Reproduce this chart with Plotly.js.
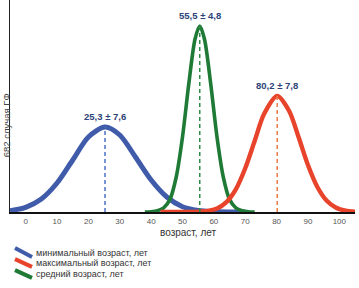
<!DOCTYPE html>
<html><head><meta charset="utf-8">
<script src="https://cdn.plot.ly/plotly-3.0.1.min.js"></script>
<style>html,body{margin:0;padding:0;background:#fff}#chart{width:359px;height:288px}</style>
</head><body><div id="chart"></div>
<script>
// Values (arbitrary frequency units)
const ageMin  = [-5, 0, 5, 10, 15, 20, 25.3, 30, 35, 40, 45, 50, 55, 60, 65, 70];
const freqMin = [1.3, 4.7, 13, 29, 52, 75, 85, 77, 55, 32, 15, 5.3, 1.6, 0.4, 0.1, 0];
const ageAvg  = [38, 40, 42, 44, 46, 48, 50, 52, 54, 55.5, 57, 59, 61, 63, 65, 67, 69, 71, 73];
const freqAvg = [0, 0.3, 1.4, 4.2, 12.6, 35, 75, 128, 173, 186, 173, 128, 75, 35, 12.6, 4.2, 1.4, 0.3, 0];
const ageMax  = [43, 46, 49, 52, 55, 58, 61, 64, 67, 70, 73, 76, 80.2, 84, 87, 90, 93, 96, 99, 102, 105];
const freqMax = [0, 0, 0, 0, 0.3, 1.1, 3.6, 9.9, 22.6, 43.7, 71, 98, 116, 101, 75, 47, 25, 11.2, 4.2, 1.3, 0.4];

const means = [25.3, 55.5, 80.2];   // min, avg, max
const sds   = [7.6, 4.8, 7.8];
const seriesNames = ['минимальный возраст, лет', 'средний возраст, лет', 'максимальный возраст, лет'];
const legendOrder = [0, 2, 1];
const tickVals = [0, 10, 20, 30, 40, 50, 60, 70, 80, 90, 100];
const xTitle = 'возраст, лет';
const yTitle = '682 случая ГФ';

const colors = ['#3f5ba9', '#1f7a36', '#e8432b'];
const dashColors = ['#4a72c4', '#2e8b46', '#ef7a45'];
const widths = [5, 3.6, 4.4];
const xs = [ageMin, ageAvg, ageMax];
const ys = [freqMin, freqAvg, freqMax];

const fmt = v => v.toFixed(1).replace('.', ',');

const traces = [];
for (let i = 0; i < 3; i++) {
  traces.push({x: xs[i], y: ys[i], type: 'scatter', mode: 'lines',
    line: {color: colors[i], width: widths[i], shape: 'spline', smoothing: 0.8},
    name: seriesNames[i], showlegend: false, hoverinfo: 'skip'});
}
const peaks = ys.map(a => Math.max(...a));
for (let i = 0; i < 3; i++) {
  traces.push({x: [means[i], means[i]], y: [0, peaks[i]], type: 'scatter', mode: 'lines',
    line: {color: dashColors[i], width: 1.5, dash: '4px,3px'}, showlegend: false, hoverinfo: 'skip'});
}

const annotations = [];
for (let i = 0; i < 3; i++) {
  annotations.push({x: means[i], y: peaks[i], xref: 'x', yref: 'y',
    text: '<b>' + fmt(means[i]) + ' ± ' + fmt(sds[i]) + '</b>', showarrow: false,
    yanchor: 'middle', yshift: 11, font: {family: 'Liberation Sans, Arial, sans-serif', size: 9.5, color: '#2c4377'}});
}
annotations.push({xref: 'paper', yref: 'paper', x: -0.011, y: 0.41, text: yTitle, textangle: -90,
  showarrow: false, xanchor: 'center', yanchor: 'middle', borderpad: 0,
  font: {family: 'Liberation Sans, Arial, sans-serif', size: 9.5, color: '#444'}});
annotations.push({xref: 'paper', yref: 'paper', x: 0.516, y: -0.099, text: xTitle,
  showarrow: false, xanchor: 'center', yanchor: 'middle',
  font: {family: 'Liberation Sans, Arial, sans-serif', size: 10, color: '#333'}});

const legY = [-0.192, -0.239, -0.292];
const strokeY = [[-0.170, -0.212], [-0.222, -0.259], [-0.274, -0.311]];
const shapes = [];
legendOrder.forEach((si, k) => {
  annotations.push({xref: 'paper', yref: 'paper', x: 0.07, y: legY[k], text: seriesNames[si],
    showarrow: false, xanchor: 'left', yanchor: 'middle',
    font: {family: 'Liberation Sans, Arial, sans-serif', size: 9, color: '#333'}});
  shapes.push({type: 'line', xref: 'paper', yref: 'paper', x0: 0.0145, x1: 0.0638,
    y0: strokeY[k][0], y1: strokeY[k][1], line: {color: colors[si], width: 4}});
});

const layout = {
  width: 359, height: 288,
  margin: {l: 10, r: 4, t: 0, b: 76},
  paper_bgcolor: '#fff', plot_bgcolor: '#fff',
  showlegend: false,
  xaxis: {range: [-5, 105], tickvals: tickVals, showgrid: false, zeroline: false,
    showline: true, linecolor: '#111', linewidth: 2, ticks: '',
    tickfont: {family: 'Liberation Sans, Arial, sans-serif', size: 8, color: '#555'}},
  yaxis: {range: [0, 212], showgrid: false, zeroline: false, showticklabels: false,
    showline: true, linecolor: '#222', linewidth: 1.5, ticks: ''},
  annotations: annotations,
  shapes: shapes
};
Plotly.newPlot('chart', traces, layout, {staticPlot: true, displayModeBar: false});
</script>
</body></html>
